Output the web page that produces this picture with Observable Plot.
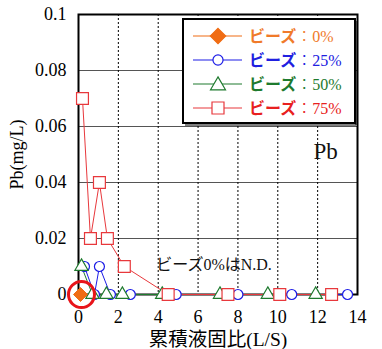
<!DOCTYPE html>
<html><head><meta charset="utf-8">
<script src="https://cdn.jsdelivr.net/npm/d3@7"></script>
<script src="https://cdn.jsdelivr.net/npm/@observablehq/plot@0.6"></script>
<style>
body{margin:0;background:#fff;}
#wrap{position:relative;width:382px;height:349px;overflow:hidden;}
#wrap svg{display:block;}
#legend{position:absolute;left:0;top:0;}
svg.chart text{font-family:"Liberation Serif","Noto Sans CJK JP",serif;font-weight:400;}
</style></head><body><div id="wrap"></div>
<script>
// ---- data ----
const seriesKeys = ["0%","25%","50%","75%"];
const seriesColors = ["#f06c14","#1c1ce6","#1e7a2e","#e8383c"];
const seriesText = ["#f07a2a","#2020e0","#1e7a2e","#e82020"];
const x0 = [0.1];
const y0 = [0];
const x25 = [0.3, 0.8, 1.05, 1.6, 2.6, 4.9, 8.0, 10.7, 13.5];
const y25 = [0.01, 0, 0.01, 0, 0, 0, 0, 0, 0];
const x50 = [0.15, 0.7, 1.4, 2.2, 4.2, 7.1, 9.5, 11.9];
const y50 = [0.01, 0, 0, 0, 0, 0, 0, 0];
const x75 = [0.2, 0.6, 1.05, 1.45, 2.3, 4.5, 7.5, 10.1, 12.7];
const y75 = [0.07, 0.02, 0.04, 0.02, 0.01, 0, 0, 0, 0];
const xTicks = [0, 2, 4, 6, 8, 10, 12, 14];
const yTicks = [0, 0.02, 0.04, 0.06, 0.08, 0.1];
const hGrid = [0.02, 0.04, 0.06, 0.08];
const vGrid = [2, 4, 6, 8, 10, 12];
const ndCircle = [{x: 0.15, y: 0}];
const notes = [
  {x: 12.4, y: 0.051, text: "Pb", size: 23},
  {x: 6.8, y: 0.0107, text: "ビーズ0%はN.D.", size: 16}
];

const zip = (xs, ys) => xs.map((x, i) => ({x, y: ys[i]}));
const d0 = zip(x0, y0), d25 = zip(x25, y25), d50 = zip(x50, y50), d75 = zip(x75, y75);

const chart = Plot.plot({
  width: 382, height: 349,
  marginTop: 14, marginRight: 25, marginBottom: 55, marginLeft: 78,
  style: {color: "#000", background: "#fff"},
  x: {domain: [0, 14]},
  y: {domain: [0, 0.1]},
  marks: [
    Plot.ruleY(hGrid, {stroke: "#555", strokeWidth: 1}),
    Plot.ruleX(vGrid, {stroke: "#000", strokeWidth: 1, strokeDasharray: "2,2"}),
    Plot.frame({stroke: "#000", strokeWidth: 2}),
    Plot.axisY({ticks: yTicks, tickFormat: d => d === 0 ? "0" : String(d), tickSize: 0, tickPadding: 12, fontSize: 18,
      label: "Pb(mg/L)", labelAnchor: "center", labelOffset: 68, labelArrow: "none"}),
    Plot.axisX({ticks: xTicks, tickFormat: d => String(d), tickSize: 0, tickPadding: 16, fontSize: 18, label: null}),
    Plot.axisX({ticks: [], tickSize: 0, fontSize: 19.5,
      label: "累積液固比(L/S)", labelAnchor: "center", labelOffset: 51, labelArrow: "none"}),
    Plot.line(d25, {x: "x", y: "y", stroke: seriesColors[1], strokeWidth: 1}),
    Plot.line(d50, {x: "x", y: "y", stroke: seriesColors[2], strokeWidth: 1}),
    Plot.line(d75, {x: "x", y: "y", stroke: seriesColors[3], strokeWidth: 1}),
    Plot.dot(d25, {x: "x", y: "y", symbol: d3.symbolCircle, r: 5, stroke: seriesColors[1], fill: "white", strokeWidth: 1.2}),
    Plot.dot(d50, {x: "x", y: "y", symbol: d3.symbolTriangle, r: 4.9, stroke: seriesColors[2], fill: "white", strokeWidth: 1.2}),
    Plot.dot(d75, {x: "x", y: "y", symbol: d3.symbolSquare, r: 6.7, stroke: seriesColors[3], fill: "white", strokeWidth: 1.2}),
    Plot.dot(d0, {x: "x", y: "y", symbol: d3.symbolDiamond2, r: 6.3, fill: seriesColors[0], stroke: seriesColors[0], strokeWidth: 1}),
    Plot.dot(ndCircle, {x: "x", y: "y", r: 13, stroke: "#e8141a", fill: "none", strokeWidth: 3}),
    Plot.text(notes, {x: "x", y: "y", text: "text", fontSize: "size", fill: "#111"})
  ]
});
chart.classList.add("chart");
document.getElementById("wrap").appendChild(chart);

// ---- legend ----
const symbolsList = [d3.symbolDiamond2, d3.symbolCircle, d3.symbolTriangle, d3.symbolSquare];
const symbolSizes = [150, 80, 97, 144];
const lg = d3.select("#wrap").append("svg").attr("id", "legend")
  .attr("width", 382).attr("height", 349);
lg.append("rect").attr("x", 183).attr("y", 19).attr("width", 172).attr("height", 104)
  .attr("fill", "#fff").attr("stroke", "#000").attr("stroke-width", 2);
lg.append("path").attr("d", "M356,21V125H185").attr("fill", "none").attr("stroke", "#000").attr("stroke-width", 1);
const rowY = [36, 60, 84, 108];
seriesKeys.forEach((k, i) => {
  const g = lg.append("g");
  g.append("line").attr("x1", 193).attr("x2", 242).attr("y1", rowY[i]).attr("y2", rowY[i])
    .attr("stroke", seriesColors[i]).attr("stroke-width", 1.2);
  const filled = i === 0;
  g.append("path").attr("d", d3.symbol(symbolsList[i], symbolSizes[i])())
    .attr("transform", `translate(218,${rowY[i] + (i === 2 ? 1.5 : 0)})`)
    .attr("fill", filled ? seriesColors[i] : "#fff").attr("stroke", seriesColors[i]).attr("stroke-width", 1.2);
  const t = g.append("text").attr("x", 249).attr("y", rowY[i]).attr("dy", "0.36em")
    .attr("fill", seriesText[i]).attr("font-size", 16);
  t.append("tspan").attr("font-family", "'Noto Sans CJK JP'").attr("font-weight", 700).text("ビーズ");
  t.append("tspan").attr("font-family", "'Noto Sans CJK JP'").attr("font-weight", 300).text("：");
  t.append("tspan").attr("font-family", "'Liberation Serif'").text(k);
});
</script>
</body></html>
